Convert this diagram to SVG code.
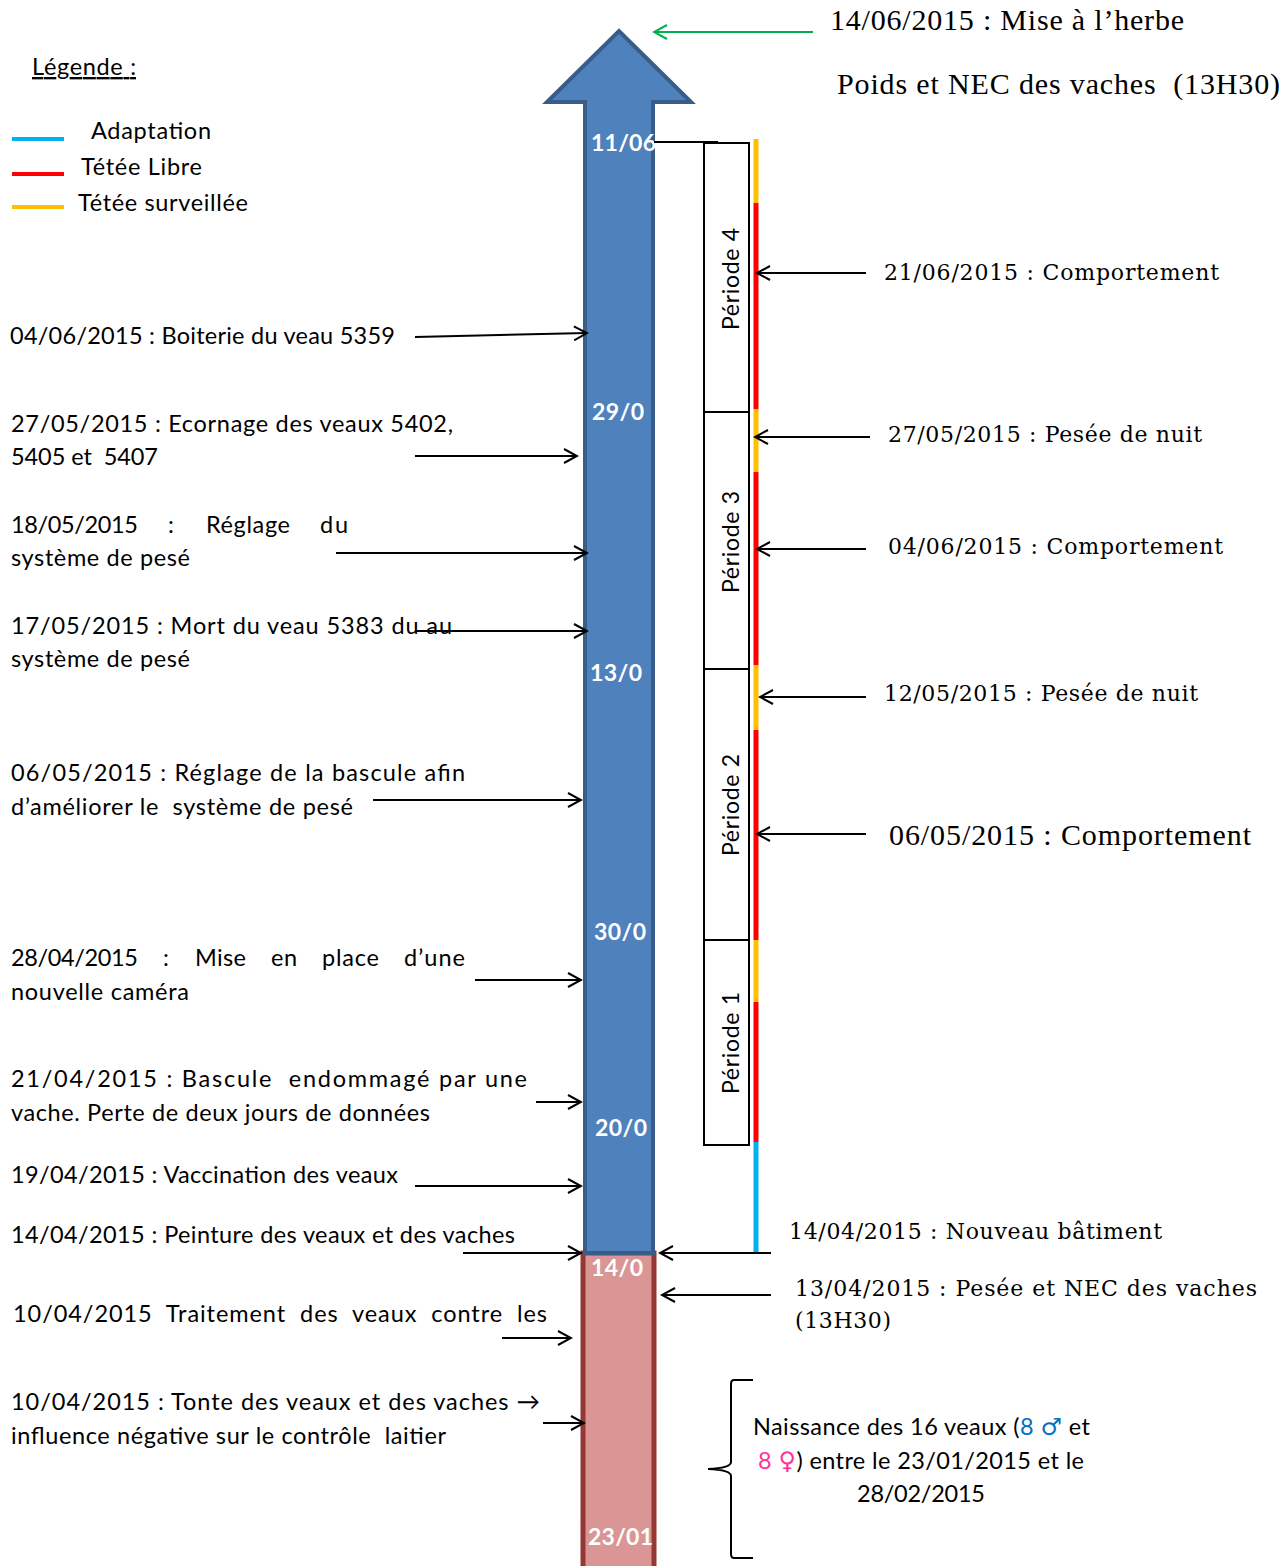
<svg xmlns="http://www.w3.org/2000/svg" width="1288" height="1566" viewBox="0 0 1288 1566">
<defs>
<marker id="ah" markerWidth="16" markerHeight="16" refX="14" refY="8" orient="auto" markerUnits="userSpaceOnUse">
<path d="M1,1 L14,8 L1,15" fill="none" stroke="#000" stroke-width="2"/>
</marker>
<marker id="ahg" markerWidth="16" markerHeight="16" refX="14" refY="8" orient="auto" markerUnits="userSpaceOnUse">
<path d="M1,1 L14,8 L1,15" fill="none" stroke="#00b050" stroke-width="2"/>
</marker>
</defs>
<style>
.s{font-family:Lato,"Liberation Sans",sans-serif;font-size:23.5px;fill:#000}
.r{font-family:"DejaVu Serif","Liberation Serif",serif;font-size:22px;fill:#000}
.t{font-family:"Liberation Serif",serif;font-size:30px;fill:#000}
.d{font-family:Lato,"Liberation Sans",sans-serif;font-size:23px;font-weight:bold;fill:#fff}
.p{font-family:Lato,"Liberation Sans",sans-serif;font-size:23px;fill:#000}
.sym{font-family:"DejaVu Sans",sans-serif;font-size:24px}
.c line{stroke:#000;stroke-width:2}
.seg{stroke-width:5}
</style>
<rect width="1288" height="1566" fill="#fff"/>

<g id="timeline">
<rect x="583" y="1253" width="71" height="320" fill="#d99694" stroke="#953735" stroke-width="5"/>
<polygon points="585,1253 585,102 547,102 619,31 691,102 653,102 653,1253" fill="#4f81bd" stroke="#385d8a" stroke-width="4" stroke-linejoin="miter"/>
<text class="d" x="591" y="151" textLength="65">11/06</text>
<text class="d" x="592" y="420" textLength="52">29/0</text>
<text class="d" x="590" y="681" textLength="52">13/0</text>
<text class="d" x="594" y="940" textLength="52">30/0</text>
<text class="d" x="595" y="1136" textLength="52">20/0</text>
<text class="d" x="591" y="1276" textLength="52">14/0</text>
<text class="d" x="588" y="1545" textLength="65">23/01</text>
</g>

<g id="legend">
<text class="s" x="32" y="75" textLength="104" text-decoration="underline">Légende :</text>
<line x1="12" y1="139" x2="64" y2="139" stroke="#00b0f0" stroke-width="4"/>
<line x1="12" y1="174" x2="64" y2="174" stroke="#ff0000" stroke-width="4"/>
<line x1="12" y1="207" x2="64" y2="207" stroke="#ffc000" stroke-width="4"/>
<text class="s" x="91" y="139" textLength="120">Adaptation</text>
<text class="s" x="81" y="175" textLength="121">Tétée Libre</text>
<text class="s" x="78" y="211" textLength="170">Tétée surveillée</text>
</g>

<g id="periods" fill="#fff" stroke="#000" stroke-width="2">
<rect id="periode4" x="704" y="143" width="45" height="269"/>
<rect id="periode3" x="704" y="412" width="45" height="257"/>
<rect id="periode2" x="704" y="669" width="45" height="271"/>
<rect id="periode1" x="704" y="940" width="45" height="205"/>
</g>
<g id="period-labels" class="p">
<text transform="translate(739,330) rotate(-90)" textLength="102">Période 4</text>
<text transform="translate(739,593) rotate(-90)" textLength="102">Période 3</text>
<text transform="translate(739,856) rotate(-90)" textLength="102">Période 2</text>
<text transform="translate(739,1094) rotate(-90)" textLength="102">Période 1</text>
</g>

<g id="phase-bar" class="seg">
<line x1="756" y1="139" x2="756" y2="203" stroke="#ffc000"/>
<line x1="756" y1="203" x2="756" y2="409" stroke="#ff0000"/>
<line x1="756" y1="409" x2="756" y2="472" stroke="#ffc000"/>
<line x1="756" y1="472" x2="756" y2="665" stroke="#ff0000"/>
<line x1="756" y1="665" x2="756" y2="730" stroke="#ffc000"/>
<line x1="756" y1="730" x2="756" y2="940" stroke="#ff0000"/>
<line x1="756" y1="940" x2="756" y2="1002" stroke="#ffc000"/>
<line x1="756" y1="1002" x2="756" y2="1142" stroke="#ff0000"/>
<line x1="756" y1="1142" x2="756" y2="1254" stroke="#00b0f0"/>
</g>

<g id="connectors" class="c">
<line x1="654" y1="142" x2="718" y2="142"/>
<line x1="813" y1="32" x2="654" y2="32" style="stroke:#00b050" marker-end="url(#ahg)"/>
<line x1="866" y1="273" x2="757" y2="273" marker-end="url(#ah)"/>
<line x1="870" y1="437" x2="755" y2="437" marker-end="url(#ah)"/>
<line x1="866" y1="549" x2="757" y2="549" marker-end="url(#ah)"/>
<line x1="866" y1="697" x2="760" y2="697" marker-end="url(#ah)"/>
<line x1="866" y1="834" x2="757" y2="834" marker-end="url(#ah)"/>
<line x1="771" y1="1253" x2="660" y2="1253" marker-end="url(#ah)"/>
<line x1="771" y1="1295" x2="662" y2="1295" marker-end="url(#ah)"/>
<line x1="415" y1="337" x2="587" y2="333" marker-end="url(#ah)"/>
<line x1="415" y1="456" x2="577" y2="456" marker-end="url(#ah)"/>
<line x1="336" y1="553" x2="587" y2="553" marker-end="url(#ah)"/>
<line x1="415" y1="631" x2="587" y2="631" marker-end="url(#ah)"/>
<line x1="373" y1="800" x2="581" y2="800" marker-end="url(#ah)"/>
<line x1="475" y1="980" x2="581" y2="980" marker-end="url(#ah)"/>
<line x1="536" y1="1102" x2="581" y2="1102" marker-end="url(#ah)"/>
<line x1="415" y1="1186" x2="581" y2="1186" marker-end="url(#ah)"/>
<line x1="463" y1="1253" x2="581" y2="1253" marker-end="url(#ah)"/>
<line x1="502" y1="1338" x2="571" y2="1338" marker-end="url(#ah)"/>
<line x1="543" y1="1423" x2="584" y2="1423" marker-end="url(#ah)"/>
</g>

<g id="left-events" class="s">
<text x="10" y="344" textLength="385">04/06/2015 : Boiterie du veau 5359</text>
<text x="11" y="432" textLength="442">27/05/2015 : Ecornage des veaux 5402,</text>
<text x="11" y="465" textLength="147" xml:space="preserve">5405 et  5407</text>
<text x="11" y="533" textLength="127">18/05/2015</text>
<text x="168" y="533">:</text>
<text x="206" y="533" textLength="84">Réglage</text>
<text x="320" y="533" textLength="28">du</text>
<text x="11" y="566" textLength="179">système de pesé</text>
<text x="11" y="634" textLength="441">17/05/2015 : Mort du veau 5383 du au</text>
<text x="11" y="667" textLength="179">système de pesé</text>
<text x="11" y="781" textLength="454">06/05/2015 : Réglage de la bascule afin</text>
<text x="11" y="815" textLength="342" xml:space="preserve">d’améliorer le  système de pesé</text>
<text x="11" y="966" textLength="127">28/04/2015</text>
<text x="163" y="966">:</text>
<text x="195" y="966" textLength="51">Mise</text>
<text x="271" y="966" textLength="26">en</text>
<text x="322" y="966" textLength="57">place</text>
<text x="404" y="966" textLength="61">d’une</text>
<text x="11" y="1000" textLength="178">nouvelle caméra</text>
<text x="11" y="1087" textLength="516" xml:space="preserve">21/04/2015 : Bascule  endommagé par une</text>
<text x="11" y="1121" textLength="419">vache. Perte de deux jours de données</text>
<text x="11" y="1183" textLength="387">19/04/2015 : Vaccination des veaux</text>
<text x="11" y="1243" textLength="504">14/04/2015 : Peinture des veaux et des vaches</text>
<text x="13" y="1322" textLength="534" xml:space="preserve">10/04/2015  Traitement  des  veaux  contre  les</text>
<text x="11" y="1410" textLength="529">10/04/2015 : Tonte des veaux et des vaches →</text>
<text x="11" y="1444" textLength="435" xml:space="preserve">influence négative sur le contrôle  laitier</text>
</g>

<g id="right-events">
<text class="t" x="830" y="30" textLength="354">14/06/2015 : Mise à l’herbe</text>
<text class="t" x="837" y="94" textLength="443" xml:space="preserve">Poids et NEC des vaches  (13H30)</text>
<text class="r" x="884" y="280" textLength="335">21/06/2015 : Comportement</text>
<text class="r" x="888" y="442" textLength="314">27/05/2015 : Pesée de nuit</text>
<text class="r" x="888" y="554" textLength="335">04/06/2015 : Comportement</text>
<text class="r" x="884" y="701" textLength="314">12/05/2015 : Pesée de nuit</text>
<text class="t" x="889" y="845" font-size="32" textLength="362">06/05/2015 : Comportement</text>
<text class="r" x="789" y="1239" textLength="373">14/04/2015 : Nouveau bâtiment</text>
<text class="r" x="795" y="1296" textLength="462">13/04/2015 : Pesée et NEC des vaches</text>
<text class="r" x="795" y="1328" textLength="96">(13H30)</text>
</g>

<g id="births">
<path d="M753,1380 L734,1380 Q731,1380 731,1384 L731,1462 Q731,1468 708,1469 Q731,1470 731,1476 L731,1554 Q731,1558 734,1558 L753,1558" fill="none" stroke="#000" stroke-width="2"/>
<text class="s" x="753" y="1435" textLength="337">Naissance des 16 veaux (<tspan fill="#0070c0">8 <tspan class="sym">♂</tspan></tspan> et</text>
<text class="s" x="758" y="1469" textLength="326"><tspan fill="#ff3399">8 <tspan class="sym">♀</tspan></tspan>) entre le 23/01/2015 et le</text>
<text class="s" x="857" y="1502" textLength="128">28/02/2015</text>
</g>
</svg>
